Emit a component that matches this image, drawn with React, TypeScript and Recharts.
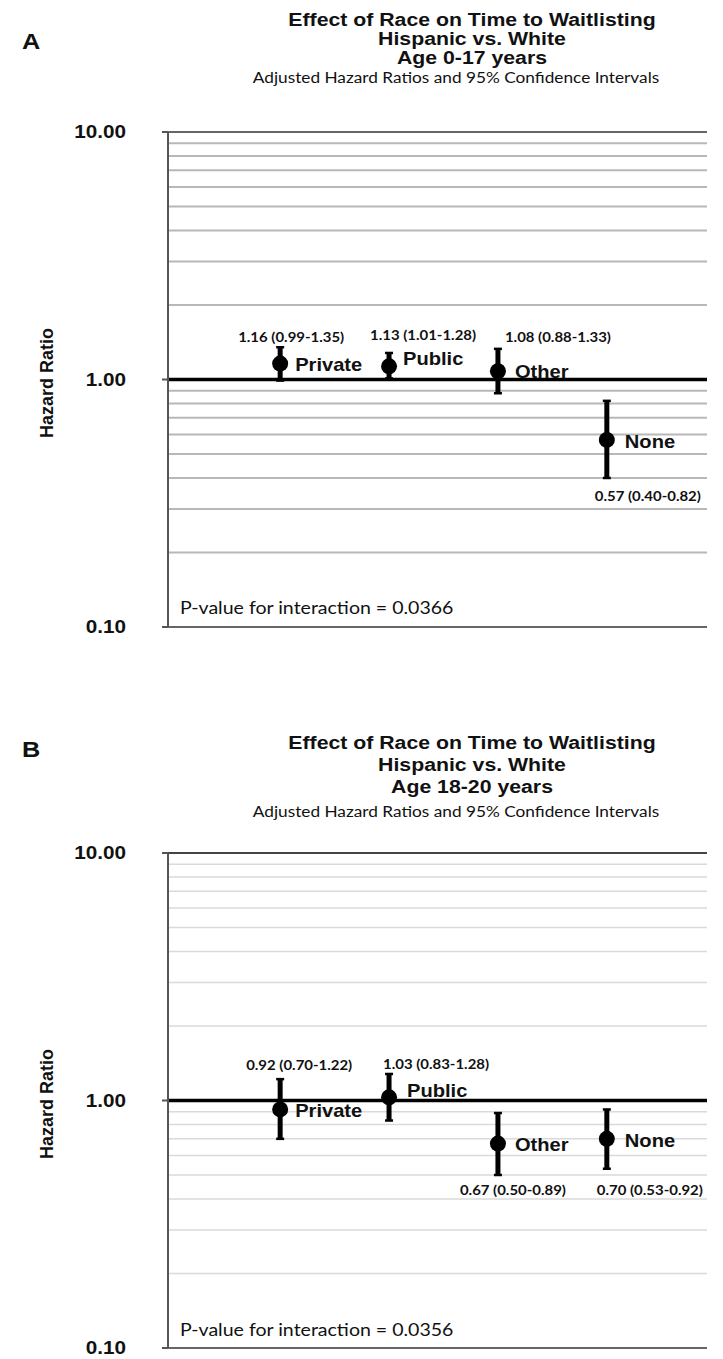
import React from "react";
import { ScatterChart, Scatter, XAxis, YAxis, ReferenceLine, ErrorBar } from "recharts";

// ---------- data ----------
const categories = ["Private", "Public", "Other", "None"];
const categoryX = [1, 2, 3, 4];

const hrA = [1.16, 1.13, 1.08, 0.57];
const lowA = [0.99, 1.01, 0.88, 0.4];
const highA = [1.35, 1.28, 1.33, 0.82];

const hrB = [0.92, 1.03, 0.67, 0.7];
const lowB = [0.7, 0.83, 0.5, 0.53];
const highB = [1.22, 1.28, 0.89, 0.92];

const yTicks = [0.1, 1, 10];
const minorGrid = [0.2, 0.3, 0.4, 0.5, 0.6, 0.7, 0.8, 0.9, 2, 3, 4, 5, 6, 7, 8, 9];

const titleA = ["Effect of Race on Time to Waitlisting", "Hispanic vs. White", "Age 0-17 years"];
const titleB = ["Effect of Race on Time to Waitlisting", "Hispanic vs. White", "Age 18-20 years"];
const subtitle = "Adjusted Hazard Ratios and 95% Confidence Intervals";
const pValueA = "P-value for interaction = 0.0366";
const pValueB = "P-value for interaction = 0.0356";
const yLabel = "Hazard Ratio";

// ---------- label layout (pixel offsets from each dot) ----------
const hrLabelOffsetA = [[-42, -27], [-19, -31], [7, -34], [-12, 56]];
const nameOffsetA = [[15, 1], [14, -7], [17, 1], [18, 2]];
const hrLabelOffsetB = [[-34, -45], [-6, -33], [-38, 46], [-10, 51]];
const nameOffsetB = [[15, 2], [18, -6], [17, 1], [18, 2]];

const ARIAL = "'Liberation Sans', Arial, Helvetica, sans-serif";
const CAL = "Lato, 'Open Sans', sans-serif";
const SX = 1.15;

const buildRows = (hr: number[], lo: number[], hi: number[]) =>
  categories.map((name, i) => ({
    idx: i,
    x: categoryX[i],
    hr: hr[i],
    err: [hr[i] - lo[i], hi[i] - hr[i]],
    name,
    label: `${hr[i].toFixed(2)} (${lo[i].toFixed(2)}-${hi[i].toFixed(2)})`,
  }));

const rowsA = buildRows(hrA, lowA, highA);
const rowsB = buildRows(hrB, lowB, highB);

const SText = ({ x, y, size, weight = "normal", family = ARIAL, anchor = "start", sx = SX, fill = "#111", children }: any) => (
  <text
    transform={`translate(${x},${y}) scale(${sx},1)`}
    x={0}
    y={0}
    textAnchor={anchor}
    dominantBaseline="central"
    fontSize={size}
    fontWeight={weight}
    fontFamily={family}
    fill={fill}
  >
    {children}
  </text>
);

const YTick = (props: any) => {
  const { x, y, payload } = props;
  return (
    <SText x={x} y={y} size={18} weight="bold" anchor="end">
      {Number(payload.value).toFixed(2)}
    </SText>
  );
};

const makeShape = (hrOff: number[][], nameOff: number[][]) => (props: any) => {
  const { cx, cy, payload } = props;
  const i = payload.idx;
  return (
    <g>
      <circle cx={cx} cy={cy} r={8} fill="#000" />
      <SText x={cx + nameOff[i][0]} y={cy + nameOff[i][1]} size={17.5} weight="bold">
        {payload.name}
      </SText>
      <SText x={cx + hrOff[i][0]} y={cy + hrOff[i][1]} size={13} weight="bold" family={CAL}>
        {payload.label}
      </SText>
    </g>
  );
};

const Panel = ({ rows, height, marginTop, marginBottom, gridColor, gridWidth, topColor, hrOff, nameOff }: any) => (
  <ScatterChart width={723} height={height} margin={{ top: marginTop, right: 16, bottom: marginBottom, left: 0 }}>
    <XAxis type="number" dataKey="x" domain={[-0.03, 4.92]} hide allowDataOverflow />
    <YAxis
      type="number"
      dataKey="hr"
      scale="log"
      domain={[0.1, 10]}
      ticks={yTicks}
      interval={0}
      allowDataOverflow
      width={168}
      axisLine={{ stroke: "#555", strokeWidth: 2 }}
      tickLine={{ stroke: "#555", strokeWidth: 2 }}
      tickSize={6}
      tickMargin={36}
      tick={(p: any) => <YTick {...p} />}
    />
    {minorGrid.map((v) => (
      <ReferenceLine key={v} y={v} stroke={gridColor} strokeWidth={gridWidth} />
    ))}
    <ReferenceLine y={10} stroke={topColor} strokeWidth={2} />
    <ReferenceLine y={0.1} stroke="#666" strokeWidth={2} />
    <ReferenceLine y={1} stroke="#000" strokeWidth={3.5} />
    <Scatter data={rows} shape={makeShape(hrOff, nameOff)} isAnimationActive={false}>
      <ErrorBar dataKey="err" direction="y" width={0} strokeWidth={5} stroke="#000" isAnimationActive={false} />
      <ErrorBar dataKey="err" direction="y" width={4} strokeWidth={2.5} stroke="#000" isAnimationActive={false} />
    </Scatter>
  </ScatterChart>
);

const Overlay = ({ top, height, letter, letterY, titles, titleYs, subY, hrY, pText, pY }: any) => (
  <svg
    width={723}
    height={height}
    style={{ position: "absolute", left: 0, top, pointerEvents: "none", overflow: "visible" }}
  >
    <SText x={22} y={letterY - top} size={22} weight="bold">
      {letter}
    </SText>
    {titles.map((t: string, k: number) => (
      <SText key={k} x={472} y={titleYs[k] - top} size={18.5} weight="bold" anchor="middle">
        {t}
      </SText>
    ))}
    <SText x={456} y={subY - top} size={15} family={CAL} anchor="middle">
      {subtitle}
    </SText>
    <text
      transform={`translate(47,${hrY - top}) rotate(-90)`}
      textAnchor="middle"
      dominantBaseline="central"
      fontSize={18}
      fontWeight="bold"
      fontFamily={ARIAL}
      fill="#111"
    >
      {yLabel}
    </text>
    <SText x={180} y={pY - top} size={17} family={CAL}>
      {pText}
    </SText>
  </svg>
);

export default function App() {
  return (
    <div style={{ position: "absolute", left: 0, top: 0, width: 723, height: 1359, background: "#fff", overflow: "hidden" }}>
      <div style={{ position: "absolute", left: 0, top: 0 }}>
        <Panel
          rows={rowsA}
          height={700}
          marginTop={132}
          marginBottom={73}
          gridColor="#b8b8b8"
          gridWidth={2}
          topColor="#666"
          hrOff={hrLabelOffsetA}
          nameOff={nameOffsetA}
        />
      </div>
      <div style={{ position: "absolute", left: 0, top: 720 }}>
        <Panel
          rows={rowsB}
          height={639}
          marginTop={133}
          marginBottom={11}
          gridColor="#dadada"
          gridWidth={1.5}
          topColor="#444"
          hrOff={hrLabelOffsetB}
          nameOff={nameOffsetB}
        />
      </div>
      <Overlay
        top={0}
        height={700}
        letter="A"
        letterY={42}
        titles={titleA}
        titleYs={[20, 39, 58]}
        subY={77}
        hrY={383}
        pText={pValueA}
        pY={608}
      />
      <Overlay
        top={700}
        height={659}
        letter="B"
        letterY={750}
        titles={titleB}
        titleYs={[743, 765, 787]}
        subY={811}
        hrY={1104}
        pText={pValueB}
        pY={1330}
      />
    </div>
  );
}
